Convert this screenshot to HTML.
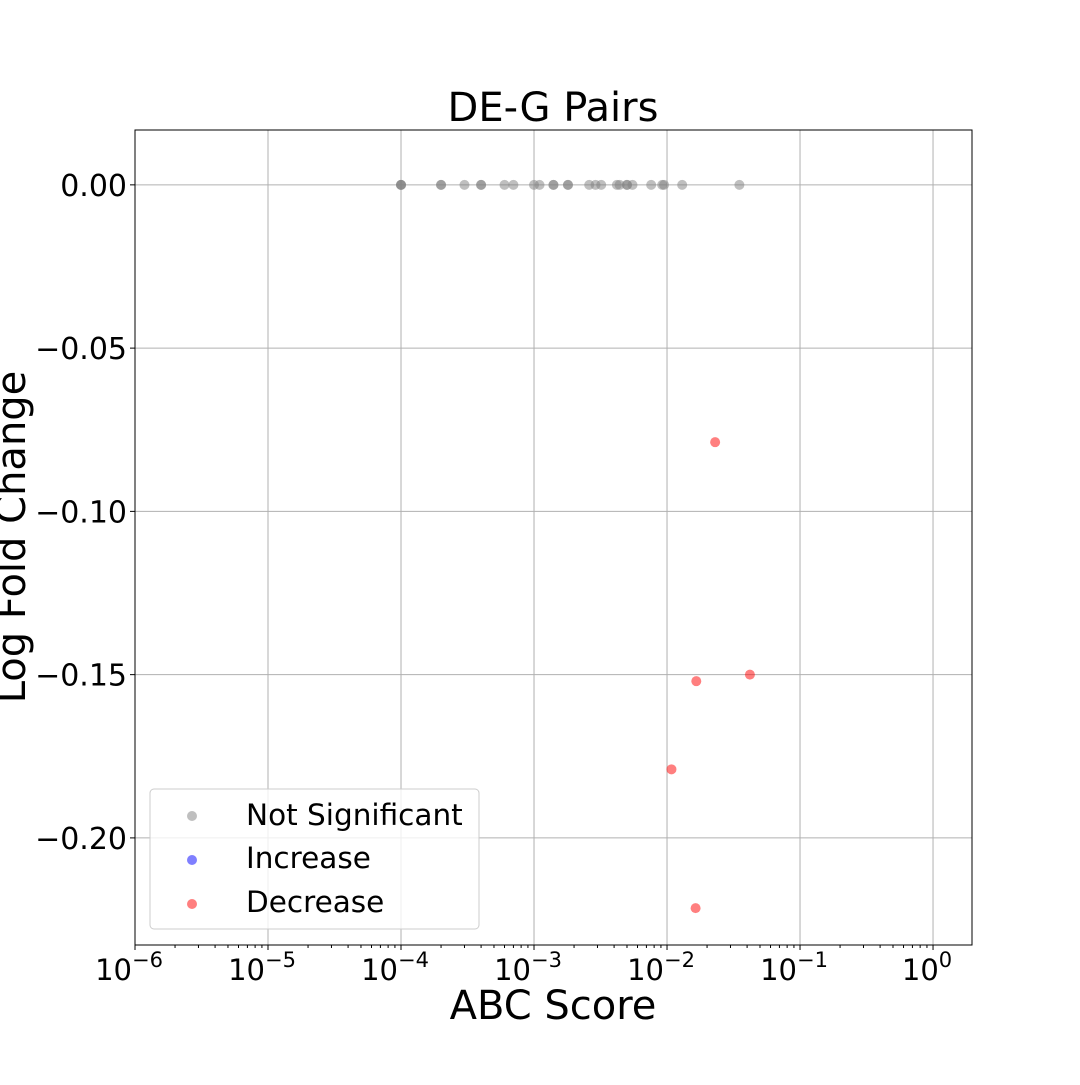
<!DOCTYPE html>
<html><head><meta charset="utf-8"><style>
html,body{margin:0;padding:0;background:#fff;}
svg text{font-family:"DejaVu Sans","Liberation Sans",sans-serif;fill:#000;}
</style></head><body>
<svg id="chart" width="1080" height="1080" viewBox="0 0 1080 1080" xmlns="http://www.w3.org/2000/svg">
<rect width="1080" height="1080" fill="#fff"/>
<g id="grid"></g>
<g id="points"></g>
<rect x="135" y="130" width="837" height="815" fill="none" stroke="#000" stroke-width="1"/>
<g id="axes"></g>
<text x="553" y="121" font-size="40" text-anchor="middle">DE-G Pairs</text>
<text x="553" y="1019" font-size="40" text-anchor="middle">ABC Score</text>
<text transform="translate(25,537) rotate(-90)" font-size="40" text-anchor="middle">Log Fold Change</text>
<g>
<rect x="150" y="789" width="329" height="140" rx="4" fill="#fff" fill-opacity="0.8" stroke="#ccc"/>
<circle cx="192" cy="816" r="5" fill="#808080" fill-opacity="0.5"/>
<text x="246" y="825" font-size="29.5">Not Significant</text>
<circle cx="192" cy="860" r="5" fill="#0000ff" fill-opacity="0.5"/>
<text x="246" y="868" font-size="29.5">Increase</text>
<circle cx="192" cy="904" r="5" fill="#ff0000" fill-opacity="0.5"/>
<text x="246" y="912" font-size="29.5">Decrease</text>
</g>
</svg>
<script>
const xTickExps = [-6,-5,-4,-3,-2,-1,0];
const yTicks = [0,-0.05,-0.10,-0.15,-0.20];
const yTickLabels = ["0.00","\u22120.05","\u22120.10","\u22120.15","\u22120.20"];
const graySeriesX = [1e-4,1e-4,1e-4,2e-4,2e-4,3e-4,4e-4,4e-4,6e-4,7e-4,1e-3,1.1e-3,1.4e-3,1.4e-3,1.8e-3,1.8e-3,2.6e-3,2.9e-3,3.2e-3,4.2e-3,4.4e-3,5e-3,5e-3,5.5e-3,7.6e-3,9.2e-3,9.5e-3,1.3e-2,3.5e-2];
const graySeriesY = [0,0,0,0,0,0,0,0,0,0,0,0,0,0,0,0,0,0,0,0,0,0,0,0,0,0,0,0,0];
const redSeriesX = [0.023,0.0166,0.042,0.0108,0.0164];
const redSeriesY = [-0.0788,-0.152,-0.150,-0.179,-0.2215];
const increaseX = [];
const increaseY = [];

const L=135,R=972,T=130,B=945;
const xmin=-6, xmax=0.293, ymin=-0.2328, ymax=0.0168;
function xs(v){return L+(Math.log10(v)-xmin)/(xmax-xmin)*(R-L);}
function ys(v){return B-(v-ymin)/(ymax-ymin)*(B-T);}
const NS="http://www.w3.org/2000/svg";
function mk(tag,attrs,parent){const e=document.createElementNS(NS,tag);for(const k in attrs)e.setAttribute(k,attrs[k]);parent.appendChild(e);return e;}
const grid=document.getElementById('grid'),axes=document.getElementById('axes'),pts=document.getElementById('points');
xTickExps.forEach(e=>{
  const x=xs(Math.pow(10,e));
  const g=mk('line',{x1:x,x2:x,y1:T,y2:B,stroke:'#b0b0b0','stroke-width':1},grid);
  
  
  mk('line',{x1:x,x2:x,y1:B,y2:B+5,stroke:'#000'},axes);
  const t=mk('text',{x:x-6,y:B+35,'font-size':29,'text-anchor':'middle'},axes);
  
  
  t.textContent='10';
  const s=mk('tspan',{dy:-13,'font-size':21},t);
  s.textContent=e<0?'\u2212'+(-e):''+e;
  for(let m=2;m<10;m++){const v=m*Math.pow(10,e);if(Math.log10(v)>xmax)break;const mx=xs(v);mk('line',{x1:mx,x2:mx,y1:B,y2:B+3,stroke:'#000'},axes);}
});
yTicks.forEach((v,i)=>{
  const y=ys(v);
  const g=mk('line',{x1:L,x2:R,y1:y,y2:y,stroke:'#b0b0b0','stroke-width':1},grid);
  
  
  mk('line',{x1:L-5,x2:L,y1:y,y2:y,stroke:'#000'},axes);
  const t=mk('text',{x:L-8,y:y+11,'font-size':30,'text-anchor':'end'},axes);
  
  
  t.textContent=yTickLabels[i];
});
graySeriesX.forEach((v,i)=>{
  const c=mk('circle',{cx:xs(v),cy:ys(graySeriesY[i]),r:5,fill:'#808080','fill-opacity':0.5},pts);
  
  
});
increaseX.forEach((v,i)=>{
  const c=mk('circle',{cx:xs(v),cy:ys(increaseY[i]),r:5,fill:'#0000ff','fill-opacity':0.5},pts);
  
  
});
redSeriesX.forEach((v,i)=>{
  const c=mk('circle',{cx:xs(v),cy:ys(redSeriesY[i]),r:5,fill:'#ff0000','fill-opacity':0.5},pts);
  
  
});
</script>
</body></html>
